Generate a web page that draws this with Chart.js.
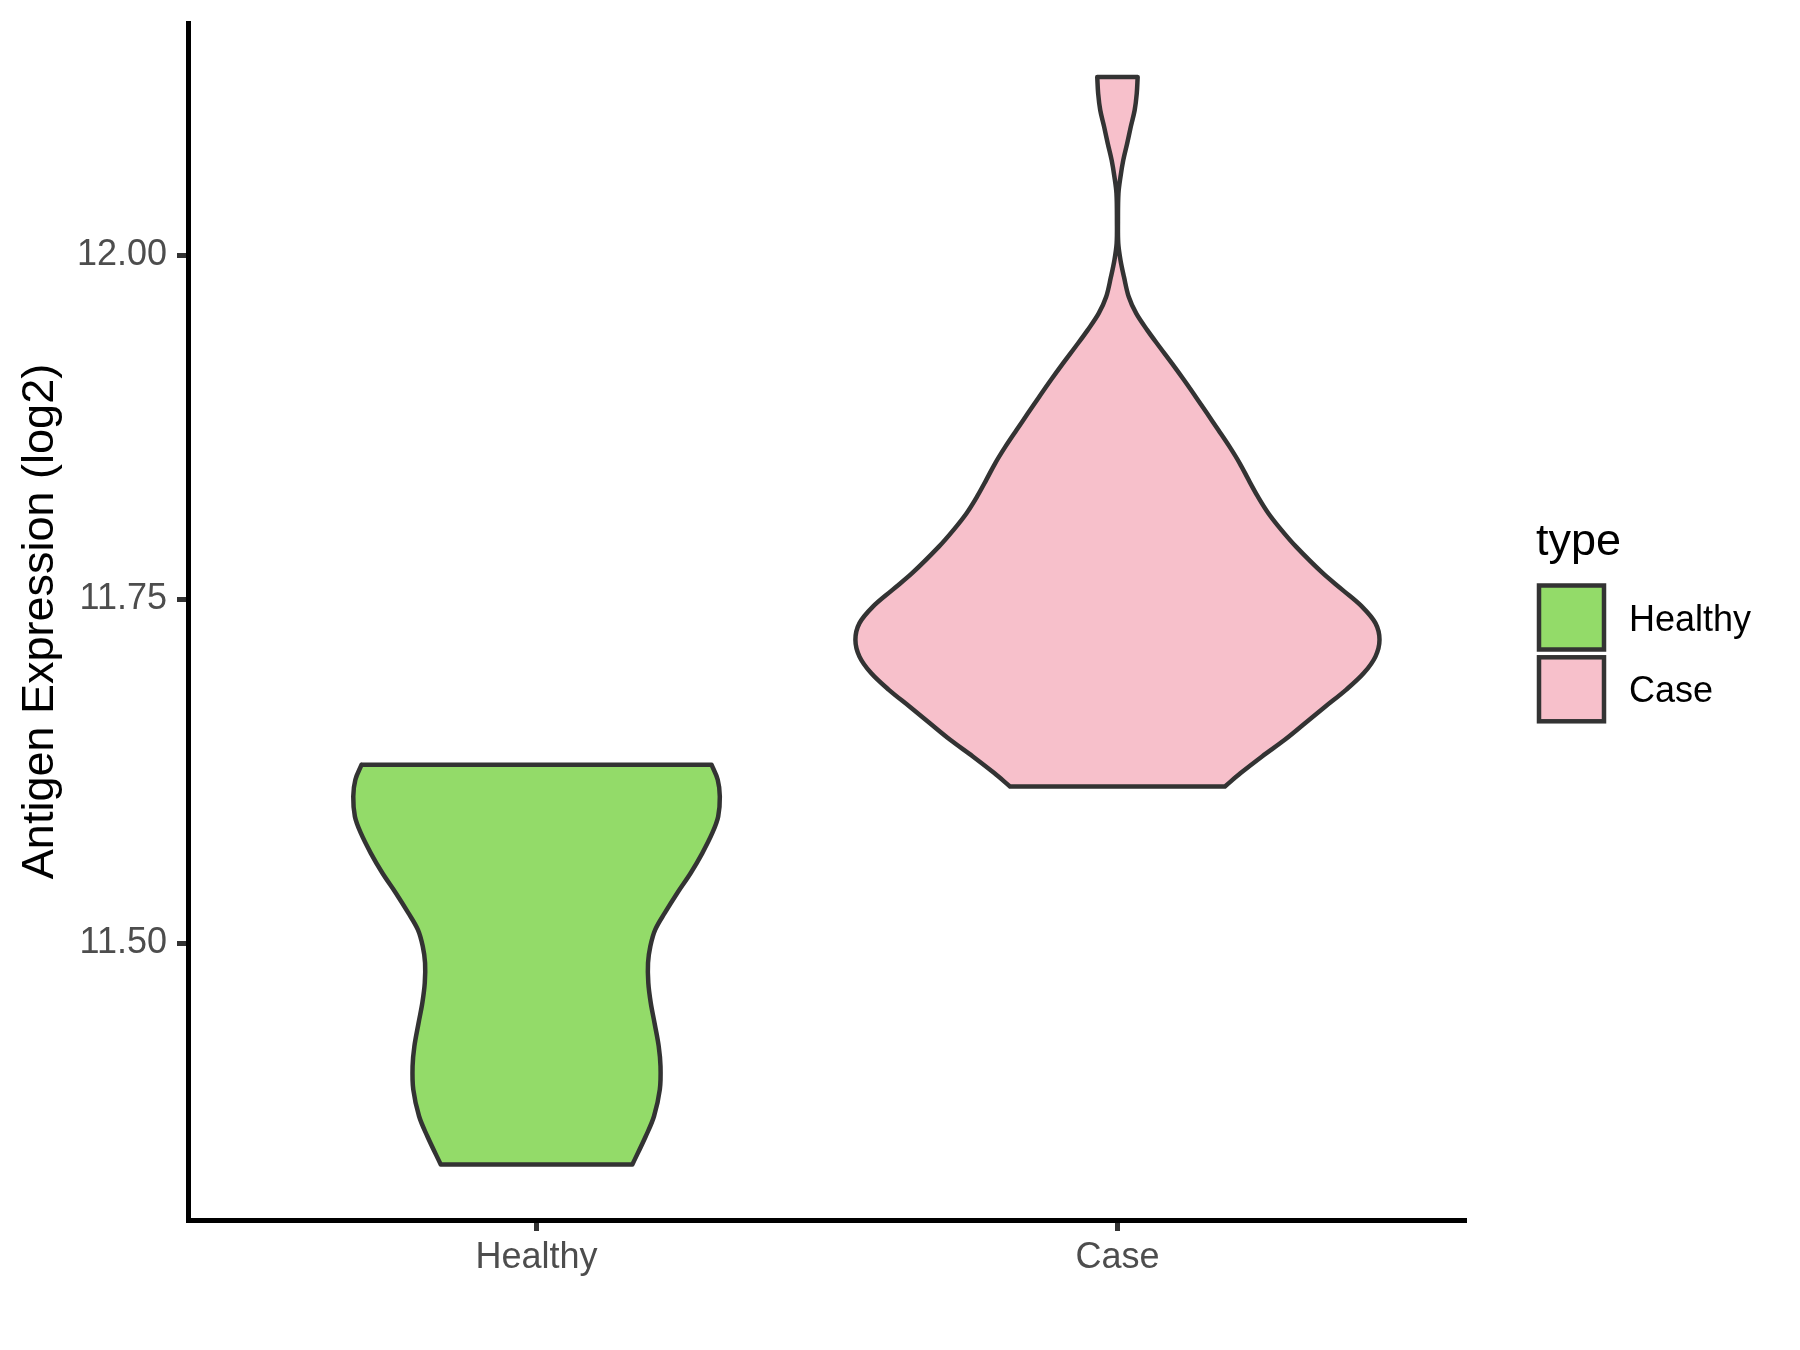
<!DOCTYPE html>
<html>
<head>
<meta charset="utf-8">
<title>Antigen Expression (log2)</title>
<script src="https://cdn.jsdelivr.net/npm/chart.js@4.4.1/dist/chart.umd.min.js"></script>
<style>
  html, body { margin: 0; padding: 0; background: #fff; }
  #wrap { width: 1800px; height: 1350px; }
</style>
</head>
<body>
<div id="wrap"><canvas id="chart" width="1800" height="1350"></canvas></div>
<script>
const categories = ['Healthy', 'Case'];
const fillColors = ['#93DB69', '#F7C0CB'];
const legendTitle = 'type';
const yTitle = 'Antigen Expression (log2)';
const yTicks = [11.50, 11.75, 12.00];

// violin outlines: level (log2) -> half width in category units
const healthyLevels = [11.6299, 11.6190, 11.6068, 11.5923, 11.5803, 11.5657, 11.5512,
  11.5367, 11.5222, 11.5100, 11.4979, 11.4858, 11.4713, 11.4568, 11.4422, 11.4253,
  11.4107, 11.3938, 11.3744, 11.3599, 11.3393];
const healthyHalfWidths = [0.3012, 0.3119, 0.3155, 0.3127, 0.3026, 0.2854, 0.2654,
  0.2423, 0.2208, 0.2043, 0.1959, 0.1919, 0.1924, 0.1966, 0.2031, 0.2103,
  0.2134, 0.2122, 0.2022, 0.1880, 0.1649];

const caseLevels = [12.1298, 12.1177, 12.1056, 12.0935, 12.0814, 12.0693, 12.0572,
  12.0451, 12.0245, 12.0088, 11.9967, 11.9845, 11.9700, 11.9579, 11.9458, 11.9337,
  11.9216, 11.9095, 11.8974, 11.8853, 11.8732, 11.8611, 11.8490, 11.8369, 11.8247,
  11.8127, 11.8006, 11.7884, 11.7691, 11.7570, 11.7448, 11.7328, 11.7207, 11.7085,
  11.6965, 11.6843, 11.6722, 11.6602, 11.6480, 11.6359, 11.6238, 11.6141];
const caseHalfWidths = [0.0348, 0.0332, 0.0296, 0.0229, 0.0167, 0.0100, 0.0052,
  0.0017, 0.0009, 0.0014, 0.0052, 0.0112, 0.0194, 0.0323, 0.0513, 0.0723,
  0.0938, 0.1146, 0.1346, 0.1542, 0.1737, 0.1929, 0.2105, 0.2258, 0.2418,
  0.2597, 0.2821, 0.3074, 0.3535, 0.3873, 0.4210, 0.4441, 0.4511, 0.4441,
  0.4241, 0.3935, 0.3580, 0.3234, 0.2880, 0.2489, 0.2121, 0.1850];

const violins = [
  { levels: healthyLevels, widths: healthyHalfWidths },
  { levels: caseLevels, widths: caseHalfWidths }
];

// closed outline: down the left side, across the bottom, up the right, back across the top.
// corner points are doubled so the spline keeps the flat ends sharp
function outline(pos, levels, widths) {
  const n = levels.length;
  const left = levels.map((y, i) => ({ x: pos - widths[i], y }));
  const right = levels.map((y, i) => ({ x: pos + widths[i], y }));
  return [
    ...left, left[n - 1],
    right[n - 1], ...right.slice().reverse(), right[0],
    left[0]
  ];
}

const typeLegend = {
  id: 'typeLegend',
  afterDraw(chart) {
    const ctx = chart.ctx;
    const x0 = chart.chartArea.right;
    ctx.save();
    ctx.fillStyle = '#000';
    ctx.textBaseline = 'alphabetic';
    ctx.font = '45px "Liberation Sans", Arial, sans-serif';
    ctx.fillText(legendTitle, x0 + 70, 555);
    categories.forEach((name, i) => {
      const top = 585.5 + i * 71.8;
      ctx.fillStyle = fillColors[i];
      ctx.fillRect(x0 + 73, top, 65, 64);
      ctx.lineWidth = 4.5;
      ctx.strokeStyle = '#333333';
      ctx.strokeRect(x0 + 73, top, 65, 64);
      ctx.fillStyle = '#000';
      ctx.font = '36px "Liberation Sans", Arial, sans-serif';
      ctx.fillText(name, x0 + 163, top + 45);
    });
    ctx.restore();
  }
};

Chart.defaults.font.family = '"Liberation Sans", Arial, sans-serif';

new Chart(document.getElementById('chart'), {
  type: 'scatter',
  data: {
    datasets: violins.map((v, i) => ({
      label: categories[i],
      data: outline(i + 1, v.levels, v.widths),
      showLine: true,
      fill: 'shape',
      tension: 0.35,
      backgroundColor: fillColors[i],
      borderColor: '#333333',
      borderWidth: 4.5,
      borderJoinStyle: 'round',
      borderCapStyle: 'round',
      pointRadius: 0,
      pointHoverRadius: 0
    }))
  },
  options: {
    responsive: false,
    animation: false,
    devicePixelRatio: 1,
    events: [],
    layout: { padding: { top: 23, right: 334, bottom: 0, left: 0 } },
    plugins: {
      legend: { display: false },
      tooltip: { enabled: false }
    },
    scales: {
      x: {
        type: 'linear',
        min: 0.4,
        max: 2.6,
        afterBuildTicks: (s) => { s.ticks = categories.map((c, i) => ({ value: i + 1 })); },
        afterFit: (s) => { s.height = 130; s.paddingLeft = 0; s.paddingRight = 0; },
        ticks: {
          callback: (v) => categories[v - 1],
          font: { size: 36 },
          color: '#4D4D4D',
          padding: 5,
          autoSkip: false,
          maxRotation: 0
        },
        grid: { display: true, drawOnChartArea: false, drawTicks: true, tickLength: 11, tickColor: '#333333', tickWidth: 5 },
        border: { display: true, color: '#000', width: 5 }
      },
      y: {
        type: 'linear',
        min: 11.299,
        max: 12.169,
        afterBuildTicks: (s) => { s.ticks = yTicks.map((v) => ({ value: v })); },
        afterFit: (s) => { s.width = 188; s.paddingTop = 0; s.paddingBottom = 0; },
        ticks: {
          callback: (v) => v.toFixed(2),
          font: { size: 36 },
          color: '#4D4D4D',
          padding: 10
        },
        grid: { display: true, drawOnChartArea: false, drawTicks: true, tickLength: 11, tickColor: '#333333', tickWidth: 5 },
        border: { display: true, color: '#000', width: 5 },
        title: {
          display: true,
          text: yTitle,
          color: '#000',
          font: { size: 45 },
          padding: { top: 14, bottom: 0 }
        }
      }
    }
  },
  plugins: [typeLegend]
});
</script>
</body>
</html>
